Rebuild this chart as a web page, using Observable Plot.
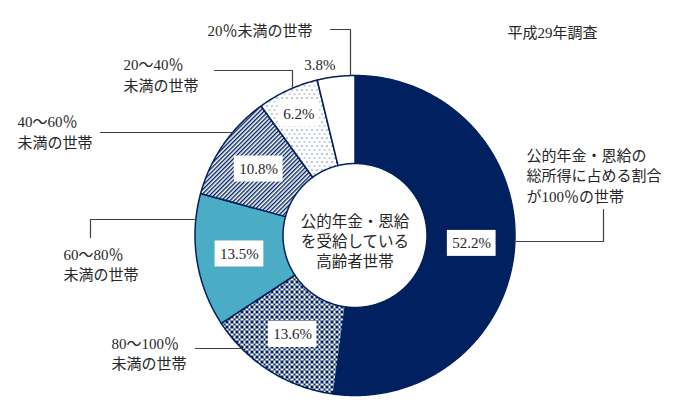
<!DOCTYPE html>
<html>
<head>
<meta charset="utf-8">
<script src="https://cdn.jsdelivr.net/npm/d3@7"></script>
<script src="https://cdn.jsdelivr.net/npm/@observablehq/plot@0.6"></script>
<style>
  html, body { margin: 0; padding: 0; background: #fff; }
  #chart svg { display: block; }
</style>
</head>
<body>
<div id="chart"></div>
<script>
// ---------- data ----------
const categories = [
  "公的年金・恩給の総所得に占める割合が100%の世帯",
  "80〜100%未満の世帯",
  "60〜80%未満の世帯",
  "40〜60%未満の世帯",
  "20〜40%未満の世帯",
  "20%未満の世帯"
];
const categoryLabels = [
  "公的年金・恩給の\n総所得に占める割合\nが100％の世帯",
  "80〜100％\n未満の世帯",
  "60〜80％\n未満の世帯",
  "40〜60％\n未満の世帯",
  "20〜40％\n未満の世帯",
  "20％未満の世帯"
];
const shares = [52.2, 13.6, 13.5, 10.8, 6.2, 3.8];
const centerLabel = "公的年金・恩給\nを受給している\n高齢者世帯";
const surveyNote = "平成29年調査";

// ---------- layout / style ----------
const W = 679, H = 406;
const CX = 354.5, CY = 235;      // ring centre (page px)
const R = 160, r = 72;           // outer / inner radius
const NAVY = "#002060";
const TEAL = "#4bacc6";
const TEXT = "#262626";
const FONT = `"Liberation Serif", "Noto Sans CJK JP", serif`;
const fills = [NAVY, "url(#pat-check)", TEAL, "url(#pat-stripe)", "url(#pat-dots)", "#ffffff"];
const valueLabelRadius = [117, 117, 117, 117, 134, 172];
// category label placement (page px): start x, block-centre y
const catLabelPos = [[526, 174.5], [111, 352], [63, 263], [17, 130.5], [123, 73.5], [207, 29]];
// leader lines (page px) ending on the ring: horizontally ("h") or vertically ("v")
const leaders = [
  {pts: [[603, 209], [603, 241]], to: "h"},
  {pts: [[195, 348]], to: "h"},
  {pts: [[90, 237], [90, 219]], to: "h"},
  {pts: [[100, 132]], to: "h"},
  {pts: [[214, 70], [292, 70]], to: "v"},
  {pts: [[330, 29], [350, 29]], to: "v"}
];
const notePos = [507, 33];
const centerLabelY = 240;

// ---------- derived geometry ----------
const rel = ([px, py]) => ({x: px - CX, y: CY - py});
const total = d3.sum(shares);
let cum = 0;
const slices = shares.map((v, i) => {
  const a0 = cum / total * 2 * Math.PI; cum += v;
  const a1 = cum / total * 2 * Math.PI;
  return {i, key: categories[i], value: v, a0, a1, mid: (a0 + a1) / 2};
});
const ringPts = slices.flatMap(s => {
  const n = Math.max(4, Math.ceil((s.a1 - s.a0) / 0.01));
  const pts = [];
  for (let t = 0; t <= n; t++) {
    const a = s.a0 + (s.a1 - s.a0) * t / n;
    pts.push({key: s.key, x: R * Math.sin(a), y: R * Math.cos(a)});
  }
  for (let t = n; t >= 0; t--) {
    const a = s.a0 + (s.a1 - s.a0) * t / n;
    pts.push({key: s.key, x: r * Math.sin(a), y: r * Math.cos(a)});
  }
  return pts;
});

const leaderPts = leaders.flatMap((l, i) => {
  const pts = l.pts.map(p => ({key: categories[i], ...rel(p)}));
  const last = pts[pts.length - 1];
  let end;
  if (l.to === "h") end = {x: Math.sign(last.x) * Math.sqrt(R * R - last.y * last.y), y: last.y};
  else end = {x: last.x, y: Math.sign(last.y) * Math.sqrt(R * R - last.x * last.x)};
  return [...pts, {key: categories[i], ...end}];
});

const fmt = v => d3.format(".1f")(v) + "%";
const VFONT = 15;
const ctx = document.createElement("canvas").getContext("2d");
ctx.font = `${VFONT}px ${FONT}`;
const valueLabels = slices.map((s, i) => {
  const rr = valueLabelRadius[i];
  const label = fmt(s.value);
  const w = ctx.measureText(label).width + 10;
  const x = rr * Math.sin(s.mid), y = rr * Math.cos(s.mid);
  return {key: s.key, label, x, y, x1: x - w / 2, x2: x + w / 2, y1: y - 13, y2: y + 13, inside: i < 5};
});

const catLabels = categoryLabels.map((t, i) => ({text: t, ...rel(catLabelPos[i])}));

// SVG pattern definitions
const defs = () => {
  const g = d3.create("svg:defs");
  // checker with alternating 3px / 2px cells (period 10px)
  const ck = g.append("pattern").attr("id", "pat-check").attr("patternUnits", "userSpaceOnUse")
    .attr("width", 10).attr("height", 10);
  ck.append("rect").attr("width", 10).attr("height", 10).attr("fill", "#fff");
  const edges = [0, 3, 5, 8, 10];
  for (let ci = 0; ci < 4; ci++) for (let ri = 0; ri < 4; ri++) {
    if ((ci + ri) % 2 === 0) {
      ck.append("rect").attr("x", edges[ci]).attr("y", edges[ri])
        .attr("width", edges[ci + 1] - edges[ci]).attr("height", edges[ri + 1] - edges[ri]).attr("fill", NAVY);
    }
  }

  const st = g.append("pattern").attr("id", "pat-stripe").attr("patternUnits", "userSpaceOnUse")
    .attr("width", 3).attr("height", 3).attr("patternTransform", "rotate(45)");
  st.append("rect").attr("width", 3).attr("height", 3).attr("fill", "#fff");
  st.append("line").attr("x1", 0.7).attr("x2", 0.7).attr("y1", 0).attr("y2", 3)
    .attr("stroke", NAVY).attr("stroke-width", 1.4);

  const dt = g.append("pattern").attr("id", "pat-dots").attr("patternUnits", "userSpaceOnUse")
    .attr("width", 5).attr("height", 8);
  dt.append("rect").attr("width", 5).attr("height", 8).attr("fill", "#fff");
  dt.append("rect").attr("x", 1).attr("y", 1).attr("width", 1).attr("height", 1).attr("fill", NAVY);
  dt.append("rect").attr("x", 3.5).attr("y", 5).attr("width", 1).attr("height", 1).attr("fill", NAVY).attr("fill-opacity", 0.85);
  return g.node();
};

const plot = Plot.plot({
  width: W, height: H, margin: 0,
  style: {background: "#fff", fontFamily: FONT, color: TEXT},
  x: {domain: [-CX, W - CX], axis: null},
  y: {domain: [CY - H, CY], axis: null},
  color: {domain: categories, range: fills},
  marks: [
    defs,
    Plot.line(ringPts, {x: "x", y: "y", z: "key", fill: "key", stroke: NAVY, strokeWidth: 1.5,
      curve: "linear-closed", strokeLinejoin: "round"}),
    Plot.line(leaderPts, {x: "x", y: "y", z: "key", stroke: "#404040", strokeWidth: 1.2}),
    Plot.rect(valueLabels.filter(d => d.inside), {x1: "x1", x2: "x2", y1: "y1", y2: "y2", fill: "#fff"}),
    Plot.text(valueLabels.filter(d => d.inside), {x: "x", y: "y", text: "label", fontSize: VFONT, fill: TEXT}),
    Plot.text(valueLabels.filter(d => !d.inside), {x: "x", y: "y", text: "label", fontSize: VFONT, fill: TEXT, textAnchor: "end", dx: 1}),
    Plot.text(catLabels, {x: "x", y: "y", text: "text", fontSize: 15, lineHeight: 1.35, textAnchor: "start", fill: TEXT}),
    Plot.text([centerLabel], {x: () => 0, y: () => CY - centerLabelY, text: d => d, fontSize: 15.5, lineHeight: 1.3, fill: TEXT}),
    Plot.text([surveyNote], {x: () => rel(notePos).x, y: () => rel(notePos).y, text: d => d, fontSize: 15, textAnchor: "start", fill: TEXT})
  ]
});
document.getElementById("chart").appendChild(plot);
</script>
</body>
</html>
